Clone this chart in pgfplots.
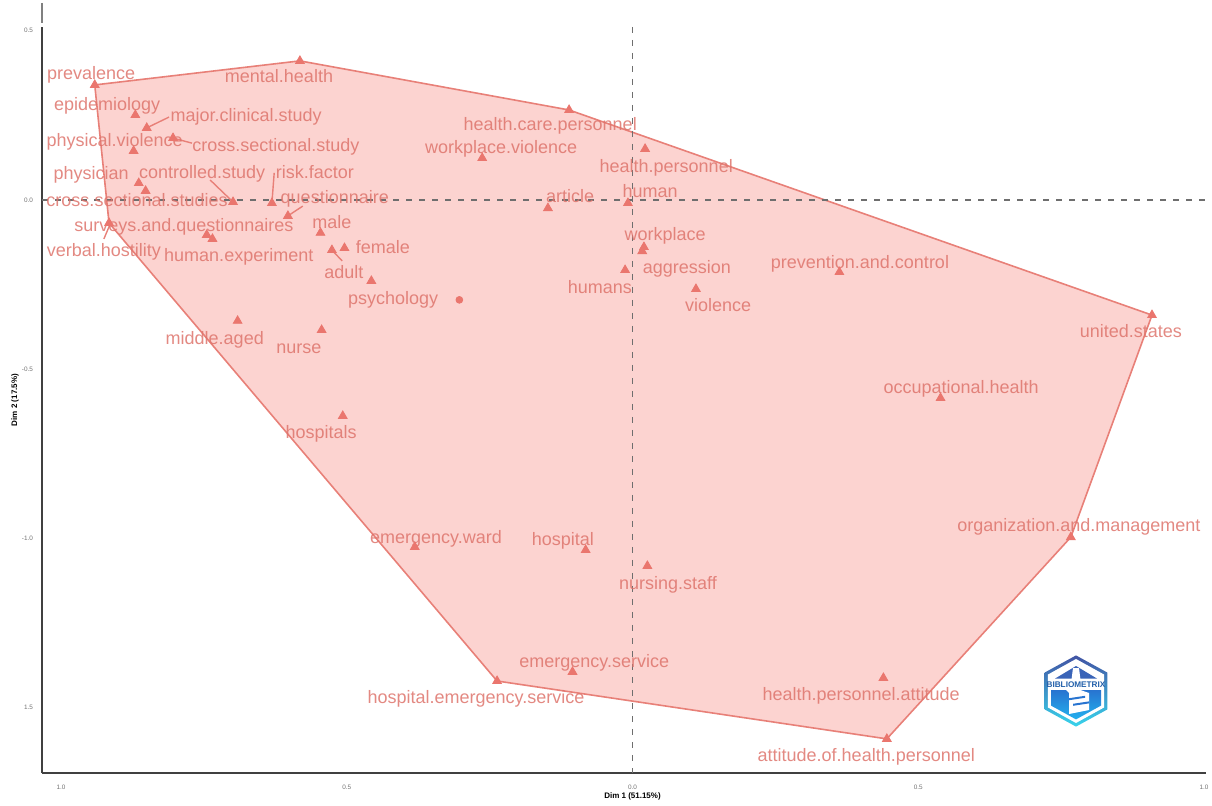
\documentclass[border=0pt]{standalone}
\usepackage{fontspec}
\setmainfont{Liberation Sans}
\usepackage{pgfplots}
\pgfplotsset{compat=1.18}

\definecolor{hullline}{RGB}{232,128,120}
\definecolor{hullfill}{RGB}{252,211,208}
\definecolor{ptcol}{RGB}{234,118,110}
\definecolor{labcol}{RGB}{222,116,108}
\definecolor{axcol}{RGB}{64,64,64}
\definecolor{dashcol}{RGB}{110,110,110}
\definecolor{logotop}{RGB}{66,84,164}
\definecolor{logobot}{RGB}{56,212,236}
\definecolor{logoin}{RGB}{40,116,208}
\definecolor{logoin2}{RGB}{36,176,238}
\definecolor{logotri}{RGB}{58,100,184}
\definecolor{logotxt}{RGB}{34,96,170}

\tikzset{lab/.style={text=labcol,text opacity=0.85,font=\fontsize{9}{10}\selectfont,inner sep=0pt,anchor=center,yshift=-1.2pt}}
\newcommand{\lab}[3]{\node[lab] at (axis cs:#1,#2) {\strut #3};}

\begin{document}
\begin{tikzpicture}
\useasboundingbox (-21pt,-16pt) rectangle (585pt,386.5pt);
\begin{axis}[
at={(0,0)},anchor=south west,
scale only axis,
width=582pt,height=373pt,
xmin=-1.0333,xmax=1.0035,
ymin=-1.6928,ymax=0.5111,
axis lines=left,
axis line style={-,draw=axcol,line width=1.15pt},
clip=false,
tick style={draw=none},
major tick length=0pt,
xtick={-1,-0.5,0,0.5,1},
xticklabels={1.0,0.5,0.0,0.5,1.0},
ytick={-1.5,-1,-0.5,0,0.5},
yticklabels={1.5,-1.0,-0.5,0.0,0.5},
tick label style={font=\fontsize{3.2}{4}\selectfont,text=black!55},
xticklabel style={yshift=-2.5pt},
yticklabel style={xshift=-1pt},
xlabel={Dim 1 (51.15\%)},
ylabel={Dim 2 (17.5\%)},
every axis x label/.style={at={(axis description cs:0.5073,0)},anchor=center,yshift=-11.5pt,font=\fontsize{4}{5}\selectfont\bfseries},
every axis y label/.style={at={(axis description cs:0,0.5)},rotate=90,anchor=center,yshift=13.5pt,font=\fontsize{4}{5}\selectfont\bfseries},
]
% convex hull
\addplot [draw=hullline,fill=hullfill,line width=0.8pt] coordinates {
(-0.941,0.340) (-0.582,0.411) (-0.111,0.266) (0.909,-0.340)
(0.767,-0.996) (0.445,-1.592) (-0.237,-1.421) (-0.916,-0.068)
} -- cycle;
% reference lines
\addplot [dashcol,line width=0.55pt,dash pattern=on 3pt off 3.5pt] coordinates {(0,0.5111) (0,-1.6928)};
\addplot [dashcol,line width=0.55pt,dash pattern=on 3pt off 3.5pt] coordinates {(-1.0333,0) (1.013,0)};
% stray piece above the axis line
\addplot [black!50,line width=1pt] coordinates {(-1.0333,0.582) (-1.0333,0.523)};
% terms
\addplot [only marks,mark=triangle*,mark size=2.5pt,ptcol,mark options={draw=none,fill=ptcol}] table {
-0.582 0.411
-0.941 0.340
-0.870 0.251
-0.850 0.213
-0.804 0.183
-0.873 0.145
-0.864 0.050
-0.852 0.027
-0.699 -0.006
-0.631 -0.009
-0.603 -0.047
-0.745 -0.103
-0.735 -0.115
-0.916 -0.068
-0.546 -0.097
-0.504 -0.142
-0.526 -0.148
-0.457 -0.239
-0.691 -0.357
-0.544 -0.384
-0.507 -0.638
-0.381 -1.025
-0.082 -1.034
0.026 -1.081
-0.105 -1.394
-0.237 -1.421
0.439 -1.412
0.445 -1.592
0.767 -0.996
0.539 -0.585
0.909 -0.340
0.362 -0.213
0.111 -0.263
0.017 -0.151
0.020 -0.139
-0.013 -0.207
-0.008 -0.009
-0.148 -0.024
-0.263 0.124
0.022 0.151
-0.111 0.266
};
% centroid
\addplot [only marks,ptcol,mark=*,mark size=1.7pt,mark options={draw=none,fill=ptcol}] coordinates {(-0.303,-0.295)};
% repel segments
\addplot [hullline,line width=0.7pt] coordinates {(-0.811,0.245) (-0.850,0.213)};
\addplot [hullline,line width=0.7pt] coordinates {(-0.771,0.168) (-0.804,0.183)};
\addplot [hullline,line width=0.7pt] coordinates {(-0.739,0.059) (-0.699,-0.006)};
\addplot [hullline,line width=0.7pt] coordinates {(-0.627,0.080) (-0.631,-0.009)};
\addplot [hullline,line width=0.7pt] coordinates {(-0.577,-0.018) (-0.603,-0.047)};
\addplot [hullline,line width=0.7pt] coordinates {(-0.925,-0.115) (-0.914,-0.071)};
\addplot [hullline,line width=0.7pt] coordinates {(-0.508,-0.180) (-0.526,-0.148)};
% labels
\lab{-0.9475}{0.375}{prevalence}
\lab{-0.6186}{0.366}{mental.health}
\lab{-0.9195}{0.284}{epidemiology}
\lab{-0.676}{0.251}{major.clinical.study}
\lab{-0.624}{0.162}{cross.sectional.study}
\lab{-0.906}{0.177}{physical.violence}
\lab{-0.9475}{0.080}{physician}
\lab{-0.753}{0.083}{controlled.study}
\lab{-0.556}{0.083}{risk.factor}
\lab{-0.867}{0}{cross.sectional.studies}
\lab{-0.521}{0.009}{questionnaire}
\lab{-0.785}{-0.074}{surveys.and.questionnaires}
\lab{-0.526}{-0.065}{male}
\lab{-0.925}{-0.148}{verbal.hostility}
\lab{-0.689}{-0.162}{human.experiment}
\lab{-0.437}{-0.139}{female}
\lab{-0.505}{-0.213}{adult}
\lab{-0.419}{-0.289}{psychology}
\lab{-0.731}{-0.408}{middle.aged}
\lab{-0.584}{-0.434}{nurse}
\lab{-0.545}{-0.685}{hospitals}
\lab{-0.344}{-0.996}{emergency.ward}
\lab{-0.122}{-1.001}{hospital}
\lab{0.062}{-1.131}{nursing.staff}
\lab{-0.067}{-1.362}{emergency.service}
\lab{-0.274}{-1.468}{hospital.emergency.service}
\lab{0.400}{-1.459}{health.personnel.attitude}
\lab{0.409}{-1.640}{attitude.of.health.personnel}
\lab{0.781}{-0.960}{organization.and.management}
\lab{0.575}{-0.552}{occupational.health}
\lab{0.872}{-0.387}{united.states}
\lab{0.398}{-0.183}{prevention.and.control}
\lab{0.150}{-0.310}{violence}
\lab{0.095}{-0.198}{aggression}
\lab{0.057}{-0.100}{workplace}
\lab{-0.057}{-0.257}{humans}
\lab{0.031}{0.027}{human}
\lab{-0.109}{0.012}{article}
\lab{-0.230}{0.157}{workplace.violence}
\lab{0.059}{0.100}{health.personnel}
\lab{-0.144}{0.225}{health.care.personnel}
\end{axis}
% bibliometrix logo
\begin{scope}[shift={(517pt,41pt)}]
\shade[top color=logotop,bottom color=logobot]
 (0,17.8pt) -- (15.7pt,9.2pt) -- (15.7pt,-9.2pt) -- (0,-17.8pt) -- (-15.7pt,-9.2pt) -- (-15.7pt,9.2pt) -- cycle;
\fill[white] (0,16pt) -- (14.1pt,8.2pt) -- (14.1pt,-8.2pt) -- (0,-16pt) -- (-14.1pt,-8.2pt) -- (-14.1pt,8.2pt) -- cycle;
\fill[logotri] (0,12.5pt) -- (10.5pt,6.2pt) -- (-10.5pt,6.2pt) -- cycle;
\shade[top color=logoin,bottom color=logoin2]
 (-12.5pt,0.5pt) -- (12.5pt,0.5pt) -- (12.5pt,-7.3pt) -- (0,-14.2pt) -- (-12.5pt,-7.3pt) -- cycle;
\fill[white] (-1.5pt,11.5pt) -- (1.5pt,11.5pt) -- (2.2pt,6pt) -- (2.2pt,0.5pt) -- (6.5pt,-1pt) -- (6.5pt,-9.5pt) -- (-3.5pt,-11.5pt) -- (-3.5pt,-1pt) -- (-5pt,0.5pt) -- (-2.2pt,6pt) -- cycle;
\fill[logoin] (-3.5pt,-3.6pt) -- (4.5pt,-2.4pt) -- (4.5pt,-3.4pt) -- (-3.5pt,-4.6pt) -- cycle;
\fill[logoin] (-1.5pt,-6.4pt) -- (6.5pt,-5.2pt) -- (6.5pt,-6.2pt) -- (-1.5pt,-7.4pt) -- cycle;
\node[inner sep=0pt,text=logotxt,font=\fontsize{4.1}{5}\selectfont\bfseries] at (0,3.2pt) {BIBLIOMETRIX};
\end{scope}
\end{tikzpicture}
\end{document}
